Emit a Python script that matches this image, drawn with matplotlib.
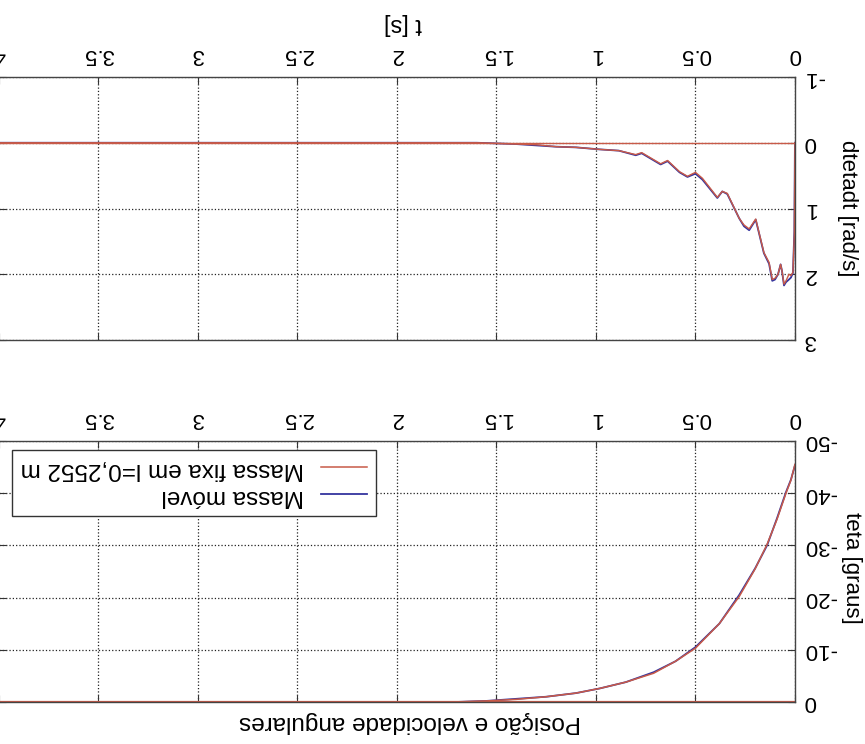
import matplotlib
matplotlib.use("Agg")
import matplotlib.pyplot as plt

plt.rcParams['font.family'] = ['Liberation Sans', 'DejaVu Sans']
plt.rcParams['axes.unicode_minus'] = False

# the scanned figure is upside down, so everything is drawn rotated 180 degrees

# teta [graus] vs t [s]
t_teta = [0, 0.02, 0.045, 0.09, 0.14, 0.2, 0.28, 0.38, 0.5, 0.6, 0.71, 0.85,
          0.98, 1.1, 1.25, 1.4, 1.55, 1.7, 2.0, 4.0]
teta_movel = [-45.3, -42.6, -40.2, -35.2, -30.0, -25.6, -20.5, -15.0, -10.5, -7.8,
              -5.7, -3.8, -2.6, -1.7, -1.0, -0.6, -0.2, 0, 0, 0]
teta_fixa = [-45.5, -42.5, -40.0, -35.0, -30.2, -25.5, -20.2, -15.0, -10.3, -7.8,
             -5.5, -3.8, -2.6, -1.7, -1.0, -0.5, -0.2, 0, 0, 0]

# dtetadt [rad/s] vs t [s]
t_dteta = [0, 0.003, 0.01, 0.02, 0.03, 0.045, 0.055, 0.065, 0.072, 0.085, 0.1,
           0.114, 0.13, 0.156, 0.197, 0.23, 0.256, 0.28, 0.34, 0.365, 0.39, 0.465,
           0.5, 0.54, 0.58, 0.64, 0.675, 0.77, 0.8, 0.885, 0.985, 1.1, 1.2, 1.3,
           1.4, 1.5, 1.6, 4.0]
dteta_movel = [0, 1.35, 1.98, 2.05, 2.08, 2.12, 2.17, 1.95, 1.85, 2.0, 2.08,
               2.1, 1.84, 1.68, 1.17, 1.33, 1.27, 1.15, 0.78, 0.74, 0.84, 0.56,
               0.47, 0.52, 0.45, 0.28, 0.33, 0.16, 0.19, 0.12, 0.10, 0.07, 0.06,
               0.04, 0.02, 0.01, 0, 0]
dteta_fixa = [0, 1.4, 1.97, 2.02, 2.0, 2.1, 2.15, 1.95, 1.85, 2.0, 2.06,
              2.08, 1.82, 1.67, 1.16, 1.31, 1.25, 1.15, 0.77, 0.74, 0.83, 0.54,
              0.45, 0.51, 0.44, 0.27, 0.32, 0.15, 0.18, 0.12, 0.10, 0.07, 0.06,
              0.03, 0.02, 0.01, 0, 0]

xticks = [0, 0.5, 1, 1.5, 2, 2.5, 3, 3.5, 4]
xticklabels = ['0', '0.5', '1', '1.5', '2', '2.5', '3', '3.5', '4']

blue = '#34349e'
red = '#c85a48'
fs_tick = 16
fs_lab = 16
fs_big = 17.5

fig = plt.figure(figsize=(8.65, 7.44), dpi=100)
ax1 = fig.add_axes([-0.0012, 0.543, 0.9202, 0.3535])
ax2 = fig.add_axes([-0.0012, 0.0565, 0.9202, 0.3508])


def style(ax, ylim, yticks):
    ax.set_xlim(4, 0)
    ax.set_ylim(*ylim)
    ax.set_xticks(xticks)
    ax.set_xticklabels(xticklabels)
    ax.set_yticks(yticks)
    ax.set_yticklabels([str(v) for v in yticks])
    ax.xaxis.set_ticks_position('both')
    ax.yaxis.set_ticks_position('both')
    ax.tick_params(axis='x', labeltop=True, labelbottom=False, direction='in',
                   length=5, pad=8.5, labelsize=fs_tick, labelrotation=180,
                   color='#333')
    ax.tick_params(axis='y', labelright=True, labelleft=False, direction='in',
                   length=5, pad=6.5, labelsize=fs_tick, labelrotation=180,
                   color='#333')
    for lbl in ax.get_yticklabels():
        lbl.set_va('center')
    ax.grid(True, linestyle=':', color='#222', linewidth=0.9)
    for sp in ax.spines.values():
        sp.set_color('#444')
        sp.set_linewidth(1.0)


style(ax1, (3, -1), [-1, 0, 1, 2, 3])
style(ax2, (0, -50), [-50, -40, -30, -20, -10, 0])

ax1.plot(t_dteta, dteta_movel, color=blue, lw=1.3)
ax1.plot(t_dteta, dteta_fixa, color=red, lw=1.0)
ax1.axhline(0, color=red, lw=1.0)

lb, = ax2.plot(t_teta, teta_movel, color=blue, lw=1.3)
lr, = ax2.plot(t_teta, teta_fixa, color=red, lw=1.1)
ax2.axhline(0, color=red, lw=1.6)

leg = ax2.legend([lr, lb], ['Massa fixa em l=0,2552 m', 'Massa móvel'],
                 loc='upper left', bbox_to_anchor=(0.0163, 0.9655),
                 borderaxespad=0, markerfirst=False, fancybox=False,
                 framealpha=1, edgecolor='#333', fontsize=fs_big,
                 handlelength=1.9, handletextpad=0.7, labelspacing=0.2,
                 borderpad=0.35)
leg.get_frame().set_linewidth(1.0)
for txt in leg.get_texts():
    txt.set_rotation(180)

fig.text(0.466, 0.9677, 't [s]', fontsize=17, rotation=180,
         ha='center', va='center')
fig.text(0.980, 0.7204, 'dtetadt [rad/s]', fontsize=fs_lab, rotation=270,
         ha='center', va='center')
fig.text(0.984, 0.2366, 'teta [graus]', fontsize=fs_lab, rotation=270,
         ha='center', va='center')
fig.text(0.474, 0.0296, 'Posição e velocidade angulares', fontsize=fs_big,
         rotation=180, ha='center', va='center')

fig.savefig('out.png', dpi=100)
